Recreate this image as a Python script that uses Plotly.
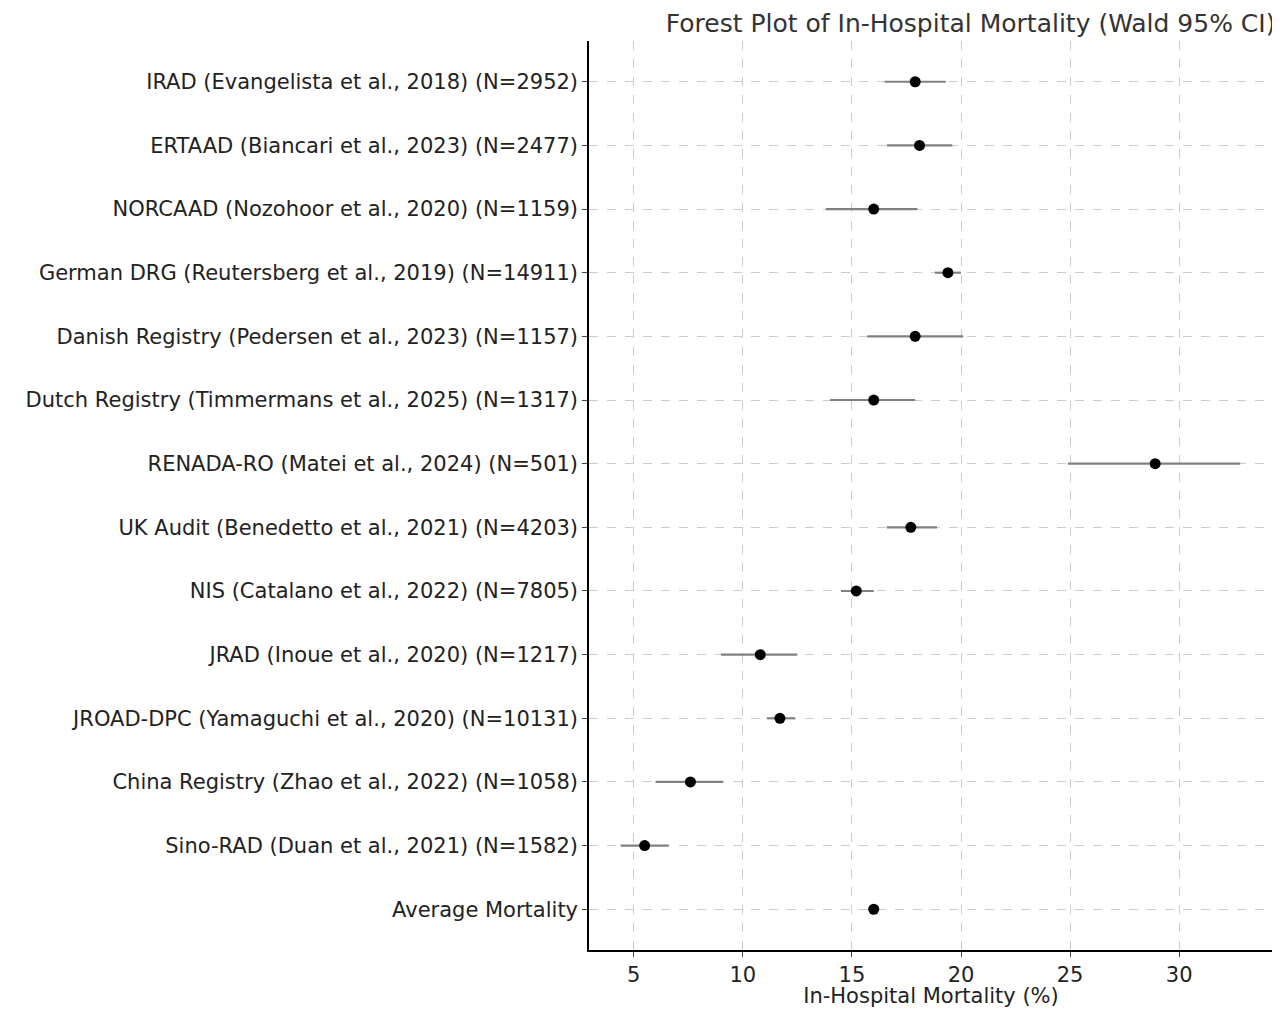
import plotly.graph_objects as go

studies = [
    "IRAD (Evangelista et al., 2018) (N=2952)",
    "ERTAAD (Biancari et al., 2023) (N=2477)",
    "NORCAAD (Nozohoor et al., 2020) (N=1159)",
    "German DRG (Reutersberg et al., 2019) (N=14911)",
    "Danish Registry (Pedersen et al., 2023) (N=1157)",
    "Dutch Registry (Timmermans et al., 2025) (N=1317)",
    "RENADA-RO (Matei et al., 2024) (N=501)",
    "UK Audit (Benedetto et al., 2021) (N=4203)",
    "NIS (Catalano et al., 2022) (N=7805)",
    "JRAD (Inoue et al., 2020) (N=1217)",
    "JROAD-DPC (Yamaguchi et al., 2020) (N=10131)",
    "China Registry (Zhao et al., 2022) (N=1058)",
    "Sino-RAD (Duan et al., 2021) (N=1582)",
    "Average Mortality",
]
mortality = [17.9, 18.1, 16.0, 19.4, 17.9, 16.0, 28.9, 17.7, 15.2, 10.8, 11.7, 7.6, 5.5, 16.0]
ci_low = [16.5, 16.6, 13.8, 18.8, 15.7, 14.0, 24.9, 16.6, 14.5, 9.0, 11.1, 6.0, 4.4, 16.0]
ci_high = [19.3, 19.6, 18.0, 20.0, 20.1, 17.9, 32.8, 18.9, 16.0, 12.5, 12.4, 9.1, 6.6, 16.0]

n = len(studies)
ypos = list(range(n - 1, -1, -1))

fig = go.Figure(go.Scatter(
    x=mortality, y=ypos, mode="markers",
    marker=dict(color="black", size=11),
    error_x=dict(type="data", symmetric=False,
                 array=[h - m for h, m in zip(ci_high, mortality)],
                 arrayminus=[m - l for m, l in zip(mortality, ci_low)],
                 color="#808080", thickness=2.2, width=0),
))

fig.update_layout(
    width=1270, height=1000,
    plot_bgcolor="white", paper_bgcolor="white",
    font=dict(family="DejaVu Sans", size=21, color="#222"),
    margin=dict(l=581, r=5, t=33, b=58),
    showlegend=False,
    title=dict(text="Forest Plot of In-Hospital Mortality (Wald 95% CI)",
               x=0.998, xanchor="right", xref="container",
               y=0.985, yanchor="middle", yref="container",
               font=dict(size=25, color="#333")),
)
fig.update_xaxes(
    range=[2.95, 34.3], tickvals=[5, 10, 15, 20, 25, 30],
    showgrid=True, gridcolor="#cccccc", griddash="dash",
    showline=True, linecolor="black", linewidth=1.5,
    ticks="outside", ticklen=5, zeroline=False, automargin=False,
    title=dict(text="In-Hospital Mortality (%)", standoff=2, font=dict(size=21)),
)
fig.update_yaxes(
    range=[-0.64, n - 1 + 0.64], tickvals=ypos, ticktext=studies,
    showgrid=True, gridcolor="#cccccc", griddash="dash",
    showline=True, linecolor="black", linewidth=1.5,
    ticks="outside", ticklen=5, zeroline=False, automargin=False,
)

fig.write_html("out.html")
